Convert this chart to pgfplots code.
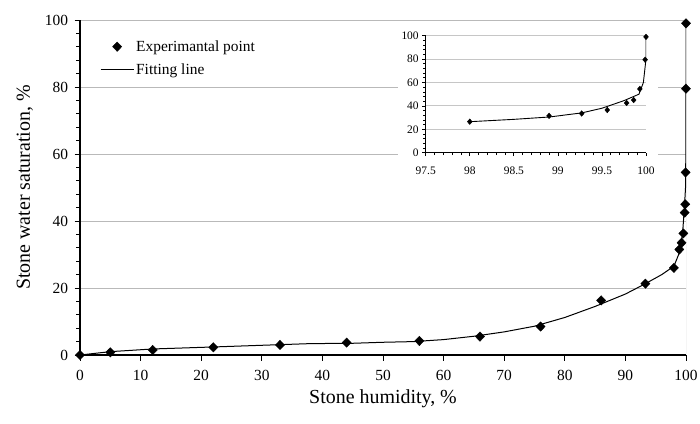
\documentclass[border=0pt]{standalone}
\usepackage{fontspec}
\setmainfont{Liberation Serif}
\usepackage{pgfplots}
\pgfplotsset{compat=1.18}
\begin{document}
\begin{tikzpicture}[x=1bp,y=1bp]
\path[use as bounding box] (0,0) rectangle (700,423);
\begin{axis}[
  at={(80bp,68bp)}, anchor=south west,
  scale only axis, width=606bp, height=335bp,
  xmin=0, xmax=100, ymin=0, ymax=100,
  axis x line*=bottom, axis y line*=left,
  axis line style={black, line width=1.1bp},
  xtick={0,10,...,100}, ytick={0,20,...,100},
  minor y tick num=4,
  tick align=outside, major tick length=5.5bp, minor tick length=4bp,
  tick style={black, line width=0.9bp},
  ymajorgrids, grid style={gray!55, line width=0.9bp},
  /pgf/number format/assume math mode=true,
  tick label style={font=\fontsize{15.5}{18}\selectfont},
  xticklabel style={yshift=-6bp},
  yticklabel style={xshift=-3bp},
  xlabel={Stone humidity, \%},
  ylabel={Stone water saturation, \%},
  label style={font=\fontsize{20}{24}\selectfont},
  xlabel style={at={(axis description cs:0.5,-0.132)}, anchor=center},
  ylabel style={at={(axis description cs:-0.091,0.5)}, anchor=center, rotate=0},
  legend style={at={(rel axis cs:0.028,0.951)}, anchor=north west, draw=none, fill=none,
    font=\fontsize{15.5}{18}\selectfont, row sep=7bp},
  legend cell align=left,
  legend image code/.code={\draw[mark repeat=2,mark phase=2] plot coordinates {(0bp,0bp)(16.5bp,0bp)(33bp,0bp)};},
]
\addplot[only marks, mark=diamond*, mark size=4.7bp, mark options={xscale=1.3}, black] coordinates {
(0,0) (5,0.8) (12,1.5) (22,2.3) (33,3.0) (44,3.7) (56,4.2) (66,5.5) (76,8.5)
(86,16.3) (93.3,21.3) (98,26) (98.9,31.5) (99.27,33.5) (99.56,36.3) (99.78,42.5)
(99.86,45) (99.93,54.5) (99.99,79.5) (100,99)
};
\addlegendentry{Experimantal point}
\addplot[black, line width=1bp] coordinates {
(0,0) (5,1.0) (12,1.8) (17,2.1) (22,2.4) (30,2.9) (38,3.4) (45,3.5) (50,3.8)
(55,4.0) (60,4.6) (65,5.6) (70,6.9) (75,8.6) (80,11.2) (85,14.5) (90,18.2)
(93,21) (96,24) (98,26.5) (98.9,30.5) (99.27,34) (99.5,38) (99.75,44.5)
(99.92,50) (99.97,60) (100,80) (100,100)
};
\addlegendentry{Fitting line}
\draw[gray!60, line width=0.9bp] (axis cs:100,0) -- (axis cs:100,100);
\end{axis}
\fill[white] (398,233) rectangle (658,398);
\begin{axis}[
  at={(425.7bp,270.3bp)}, anchor=south west,
  scale only axis, width=220.3bp, height=117bp,
  xmin=97.5, xmax=100, ymin=0, ymax=100,
  axis x line*=bottom, axis y line*=left,
  axis line style={black, line width=0.9bp},
  xtick={97.5,98,98.5,99,99.5,100}, ytick={0,20,...,100},
  xticklabels={97.5,98,98.5,99,99.5,100},
  minor tick num=4,
  tick align=outside, major tick length=3.5bp, minor tick length=2.5bp,
  tick style={black, line width=0.7bp},
  ymajorgrids, grid style={gray!45, line width=0.8bp},
  /pgf/number format/assume math mode=true,
  tick label style={font=\fontsize{11.5}{13}\selectfont},
  xticklabel style={yshift=-7bp},
]
\addplot[only marks, mark=diamond*, mark size=2.8bp, mark options={xscale=1.15}, black] coordinates {
(98,26.5) (98.9,31.5) (99.27,33.5) (99.56,36.5) (99.78,42.5) (99.86,45)
(99.93,54.5) (99.99,79.5) (100,99)
};
\addplot[black, line width=0.9bp] coordinates {
(98,26.5) (98.5,28.5) (98.9,30.5) (99.27,34) (99.5,38) (99.75,44.5)
(99.92,50) (99.97,60) (100,80) (100,100)
};
\end{axis}
\end{tikzpicture}
\end{document}
